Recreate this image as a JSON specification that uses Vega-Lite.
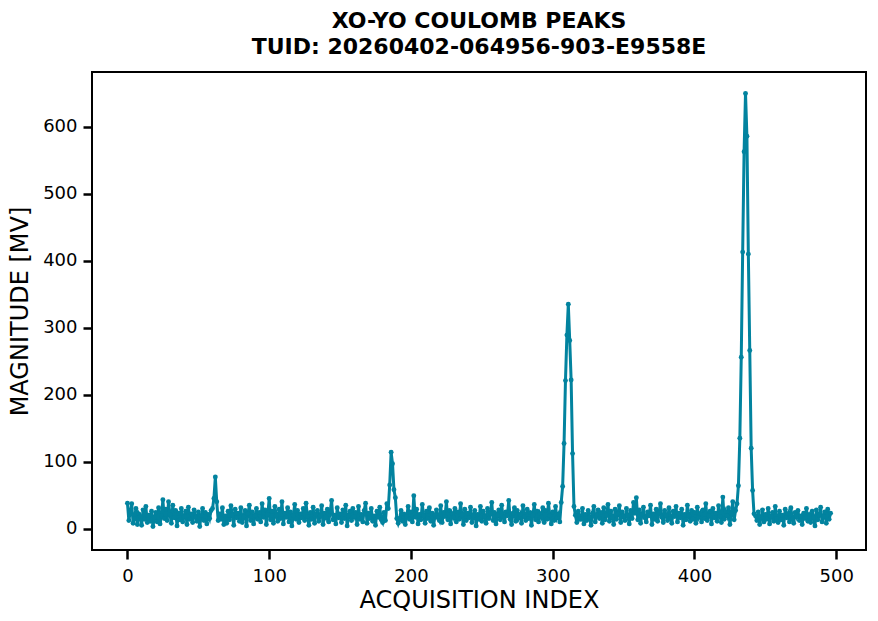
{
  "$schema": "https://vega.github.io/schema/vega-lite/v6.json",
  "width": 774,
  "height": 478,
  "autosize": {"type": "none"},
  "padding": {"left": 92, "top": 72, "right": 12, "bottom": 71},
  "background": "white",
  "title": {
    "text": ["XO-YO COULOMB PEAKS", "TUID: 20260402-064956-903-E9558E"],
    "font": "DejaVu Sans",
    "fontSize": 22,
    "fontWeight": 600,
    "color": "black",
    "anchor": "middle",
    "offset": 13,
    "lineHeight": 26
  },
  "config": {
    "view": {"stroke": "black", "strokeWidth": 2},
    "axis": {
      "grid": false,
      "domain": false,
      "tickColor": "black",
      "tickWidth": 2.5,
      "tickSize": 9,
      "labelFont": "DejaVu Sans",
      "labelFontSize": 18,
      "labelFontWeight": 500,
      "labelColor": "black",
      "titleFont": "DejaVu Sans",
      "titleFontSize": 24,
      "titleFontWeight": 500,
      "titleColor": "black"
    }
  },
  "data": {
    "values": [
      {"i":0,"v":38},{"i":1,"v":12},{"i":2,"v":25},{"i":3,"v":37},{"i":4,"v":8},{"i":5,"v":15},{"i":6,"v":30},{"i":7,"v":6},{"i":8,"v":22},{"i":9,"v":18},
      {"i":10,"v":5},{"i":11,"v":28},{"i":12,"v":14},{"i":13,"v":33},{"i":14,"v":9},{"i":15,"v":20},{"i":16,"v":11},{"i":17,"v":26},{"i":18,"v":3},{"i":19,"v":17},
      {"i":20,"v":24},{"i":21,"v":10},{"i":22,"v":31},{"i":23,"v":7},{"i":24,"v":19},{"i":25,"v":43},{"i":26,"v":15},{"i":27,"v":29},{"i":28,"v":12},{"i":29,"v":40},
      {"i":30,"v":21},{"i":31,"v":8},{"i":32,"v":35},{"i":33,"v":16},{"i":34,"v":27},{"i":35,"v":4},{"i":36,"v":23},{"i":37,"v":13},{"i":38,"v":30},{"i":39,"v":10},
      {"i":40,"v":18},{"i":41,"v":26},{"i":42,"v":6},{"i":43,"v":32},{"i":44,"v":14},{"i":45,"v":22},{"i":46,"v":9},{"i":47,"v":28},{"i":48,"v":17},{"i":49,"v":11},
      {"i":50,"v":25},{"i":51,"v":3},{"i":52,"v":19},{"i":53,"v":30},{"i":54,"v":12},{"i":55,"v":24},{"i":56,"v":7},{"i":57,"v":21},{"i":58,"v":15},{"i":59,"v":27},
      {"i":60,"v":30},{"i":61,"v":45},{"i":62,"v":77},{"i":63,"v":40},{"i":64,"v":12},{"i":65,"v":22},{"i":66,"v":14},{"i":67,"v":31},{"i":68,"v":6},{"i":69,"v":19},
      {"i":70,"v":8},{"i":71,"v":26},{"i":72,"v":13},{"i":73,"v":34},{"i":74,"v":20},{"i":75,"v":5},{"i":76,"v":29},{"i":77,"v":16},{"i":78,"v":23},{"i":79,"v":11},
      {"i":80,"v":31},{"i":81,"v":9},{"i":82,"v":18},{"i":83,"v":27},{"i":84,"v":4},{"i":85,"v":22},{"i":86,"v":35},{"i":87,"v":12},{"i":88,"v":25},{"i":89,"v":7},
      {"i":90,"v":19},{"i":91,"v":30},{"i":92,"v":14},{"i":93,"v":24},{"i":94,"v":10},{"i":95,"v":37},{"i":96,"v":17},{"i":97,"v":28},{"i":98,"v":6},{"i":99,"v":21},
      {"i":100,"v":45},{"i":101,"v":13},{"i":102,"v":26},{"i":103,"v":8},{"i":104,"v":33},{"i":105,"v":19},{"i":106,"v":11},{"i":107,"v":29},{"i":108,"v":15},{"i":109,"v":40},
      {"i":110,"v":7},{"i":111,"v":23},{"i":112,"v":17},{"i":113,"v":31},{"i":114,"v":10},{"i":115,"v":25},{"i":116,"v":4},{"i":117,"v":20},{"i":118,"v":36},{"i":119,"v":14},
      {"i":120,"v":27},{"i":121,"v":9},{"i":122,"v":22},{"i":123,"v":16},{"i":124,"v":30},{"i":125,"v":12},{"i":126,"v":38},{"i":127,"v":18},{"i":128,"v":5},{"i":129,"v":24},
      {"i":130,"v":14},{"i":131,"v":32},{"i":132,"v":8},{"i":133,"v":21},{"i":134,"v":27},{"i":135,"v":11},{"i":136,"v":19},{"i":137,"v":34},{"i":138,"v":6},{"i":139,"v":23},
      {"i":140,"v":17},{"i":141,"v":29},{"i":142,"v":10},{"i":143,"v":25},{"i":144,"v":42},{"i":145,"v":13},{"i":146,"v":20},{"i":147,"v":7},{"i":148,"v":31},{"i":149,"v":16},
      {"i":150,"v":22},{"i":151,"v":9},{"i":152,"v":28},{"i":153,"v":15},{"i":154,"v":35},{"i":155,"v":4},{"i":156,"v":19},{"i":157,"v":26},{"i":158,"v":12},{"i":159,"v":30},
      {"i":160,"v":18},{"i":161,"v":24},{"i":162,"v":6},{"i":163,"v":33},{"i":164,"v":14},{"i":165,"v":21},{"i":166,"v":10},{"i":167,"v":27},{"i":168,"v":38},{"i":169,"v":8},
      {"i":170,"v":23},{"i":171,"v":15},{"i":172,"v":30},{"i":173,"v":11},{"i":174,"v":19},{"i":175,"v":5},{"i":176,"v":26},{"i":177,"v":17},{"i":178,"v":32},{"i":179,"v":13},
      {"i":180,"v":9},{"i":181,"v":24},{"i":182,"v":12},{"i":183,"v":37},{"i":184,"v":30},{"i":185,"v":65},{"i":186,"v":114},{"i":187,"v":97},{"i":188,"v":58},{"i":189,"v":46},
      {"i":190,"v":15},{"i":191,"v":8},{"i":192,"v":15},{"i":193,"v":27},{"i":194,"v":11},{"i":195,"v":22},{"i":196,"v":6},{"i":197,"v":18},{"i":198,"v":33},{"i":199,"v":14},
      {"i":200,"v":25},{"i":201,"v":10},{"i":202,"v":49},{"i":203,"v":17},{"i":204,"v":29},{"i":205,"v":7},{"i":206,"v":21},{"i":207,"v":13},{"i":208,"v":36},{"i":209,"v":19},
      {"i":210,"v":8},{"i":211,"v":26},{"i":212,"v":15},{"i":213,"v":31},{"i":214,"v":11},{"i":215,"v":23},{"i":216,"v":5},{"i":217,"v":20},{"i":218,"v":28},{"i":219,"v":16},
      {"i":220,"v":12},{"i":221,"v":34},{"i":222,"v":9},{"i":223,"v":24},{"i":224,"v":18},{"i":225,"v":40},{"i":226,"v":13},{"i":227,"v":27},{"i":228,"v":7},{"i":229,"v":22},
      {"i":230,"v":17},{"i":231,"v":30},{"i":232,"v":10},{"i":233,"v":25},{"i":234,"v":14},{"i":235,"v":37},{"i":236,"v":20},{"i":237,"v":6},{"i":238,"v":29},{"i":239,"v":12},
      {"i":240,"v":23},{"i":241,"v":16},{"i":242,"v":32},{"i":243,"v":9},{"i":244,"v":19},{"i":245,"v":27},{"i":246,"v":4},{"i":247,"v":21},{"i":248,"v":14},{"i":249,"v":33},
      {"i":250,"v":11},{"i":251,"v":26},{"i":252,"v":18},{"i":253,"v":8},{"i":254,"v":30},{"i":255,"v":15},{"i":256,"v":22},{"i":257,"v":39},{"i":258,"v":12},{"i":259,"v":24},
      {"i":260,"v":7},{"i":261,"v":20},{"i":262,"v":28},{"i":263,"v":13},{"i":264,"v":35},{"i":265,"v":17},{"i":266,"v":10},{"i":267,"v":25},{"i":268,"v":19},{"i":269,"v":42},
      {"i":270,"v":14},{"i":271,"v":6},{"i":272,"v":23},{"i":273,"v":31},{"i":274,"v":11},{"i":275,"v":27},{"i":276,"v":16},{"i":277,"v":21},{"i":278,"v":8},{"i":279,"v":34},
      {"i":280,"v":18},{"i":281,"v":12},{"i":282,"v":29},{"i":283,"v":15},{"i":284,"v":24},{"i":285,"v":5},{"i":286,"v":20},{"i":287,"v":36},{"i":288,"v":13},{"i":289,"v":26},
      {"i":290,"v":10},{"i":291,"v":22},{"i":292,"v":17},{"i":293,"v":31},{"i":294,"v":9},{"i":295,"v":27},{"i":296,"v":14},{"i":297,"v":38},{"i":298,"v":19},{"i":299,"v":7},
      {"i":300,"v":25},{"i":301,"v":12},{"i":302,"v":33},{"i":303,"v":16},{"i":304,"v":21},{"i":305,"v":10},{"i":306,"v":39},{"i":307,"v":63},{"i":308,"v":127},{"i":309,"v":221},
      {"i":310,"v":289},{"i":311,"v":335},{"i":312,"v":281},{"i":313,"v":222},{"i":314,"v":112},{"i":315,"v":33},{"i":316,"v":20},{"i":317,"v":9},{"i":318,"v":26},{"i":319,"v":14},
      {"i":320,"v":14},{"i":321,"v":30},{"i":322,"v":7},{"i":323,"v":21},{"i":324,"v":12},{"i":325,"v":27},{"i":326,"v":17},{"i":327,"v":5},{"i":328,"v":23},{"i":329,"v":33},
      {"i":330,"v":10},{"i":331,"v":19},{"i":332,"v":28},{"i":333,"v":15},{"i":334,"v":24},{"i":335,"v":8},{"i":336,"v":31},{"i":337,"v":13},{"i":338,"v":20},{"i":339,"v":36},
      {"i":340,"v":11},{"i":341,"v":26},{"i":342,"v":17},{"i":343,"v":6},{"i":344,"v":29},{"i":345,"v":14},{"i":346,"v":22},{"i":347,"v":34},{"i":348,"v":9},{"i":349,"v":25},
      {"i":350,"v":18},{"i":351,"v":12},{"i":352,"v":30},{"i":353,"v":20},{"i":354,"v":7},{"i":355,"v":27},{"i":356,"v":15},{"i":357,"v":39},{"i":358,"v":23},{"i":359,"v":46},
      {"i":360,"v":13},{"i":361,"v":28},{"i":362,"v":8},{"i":363,"v":21},{"i":364,"v":32},{"i":365,"v":16},{"i":366,"v":10},{"i":367,"v":25},{"i":368,"v":19},{"i":369,"v":35},
      {"i":370,"v":6},{"i":371,"v":22},{"i":372,"v":14},{"i":373,"v":29},{"i":374,"v":11},{"i":375,"v":24},{"i":376,"v":37},{"i":377,"v":17},{"i":378,"v":9},{"i":379,"v":27},
      {"i":380,"v":20},{"i":381,"v":12},{"i":382,"v":31},{"i":383,"v":15},{"i":384,"v":8},{"i":385,"v":26},{"i":386,"v":18},{"i":387,"v":33},{"i":388,"v":10},{"i":389,"v":23},
      {"i":390,"v":16},{"i":391,"v":29},{"i":392,"v":5},{"i":393,"v":21},{"i":394,"v":13},{"i":395,"v":35},{"i":396,"v":19},{"i":397,"v":11},{"i":398,"v":27},{"i":399,"v":14},
      {"i":400,"v":24},{"i":401,"v":8},{"i":402,"v":32},{"i":403,"v":17},{"i":404,"v":22},{"i":405,"v":10},{"i":406,"v":28},{"i":407,"v":15},{"i":408,"v":37},{"i":409,"v":12},
      {"i":410,"v":20},{"i":411,"v":26},{"i":412,"v":7},{"i":413,"v":30},{"i":414,"v":16},{"i":415,"v":23},{"i":416,"v":11},{"i":417,"v":34},{"i":418,"v":18},{"i":419,"v":9},
      {"i":420,"v":47},{"i":421,"v":14},{"i":422,"v":25},{"i":423,"v":19},{"i":424,"v":31},{"i":425,"v":6},{"i":426,"v":22},{"i":427,"v":40},{"i":428,"v":13},{"i":429,"v":27},
      {"i":430,"v":37},{"i":431,"v":64},{"i":432,"v":135},{"i":433,"v":256},{"i":434,"v":413},{"i":435,"v":563},{"i":436,"v":650},{"i":437,"v":586},{"i":438,"v":410},{"i":439,"v":266},
      {"i":440,"v":120},{"i":441,"v":57},{"i":442,"v":22},{"i":443,"v":19},{"i":444,"v":12},{"i":445,"v":25},{"i":446,"v":6},{"i":447,"v":17},{"i":448,"v":28},{"i":449,"v":10},
      {"i":450,"v":21},{"i":451,"v":14},{"i":452,"v":30},{"i":453,"v":7},{"i":454,"v":18},{"i":455,"v":24},{"i":456,"v":11},{"i":457,"v":33},{"i":458,"v":15},{"i":459,"v":9},
      {"i":460,"v":26},{"i":461,"v":13},{"i":462,"v":20},{"i":463,"v":5},{"i":464,"v":29},{"i":465,"v":16},{"i":466,"v":22},{"i":467,"v":10},{"i":468,"v":31},{"i":469,"v":14},
      {"i":470,"v":8},{"i":471,"v":24},{"i":472,"v":18},{"i":473,"v":27},{"i":474,"v":12},{"i":475,"v":19},{"i":476,"v":6},{"i":477,"v":23},{"i":478,"v":15},{"i":479,"v":30},
      {"i":480,"v":11},{"i":481,"v":21},{"i":482,"v":9},{"i":483,"v":26},{"i":484,"v":17},{"i":485,"v":4},{"i":486,"v":28},{"i":487,"v":13},{"i":488,"v":20},{"i":489,"v":32},
      {"i":490,"v":10},{"i":491,"v":18},{"i":492,"v":25},{"i":493,"v":8},{"i":494,"v":29},{"i":495,"v":14},{"i":496,"v":23}
    ]
  },
  "mark": {
    "type": "line",
    "color": "#02839f",
    "strokeWidth": 3,
    "point": {"filled": true, "size": 24, "color": "#02839f"}
  },
  "encoding": {
    "x": {
      "field": "i",
      "type": "quantitative",
      "scale": {"domain": [-25, 521], "nice": false, "zero": false},
      "axis": {"values": [0, 100, 200, 300, 400, 500], "title": "ACQUISITION INDEX", "titlePadding": 3, "labelPadding": 8}
    },
    "y": {
      "field": "v",
      "type": "quantitative",
      "scale": {"domain": [-32, 682], "nice": false, "zero": false},
      "axis": {"values": [0, 100, 200, 300, 400, 500, 600], "title": "MAGNITUDE [MV]", "titlePadding": 10, "labelPadding": 6}
    }
  }
}
